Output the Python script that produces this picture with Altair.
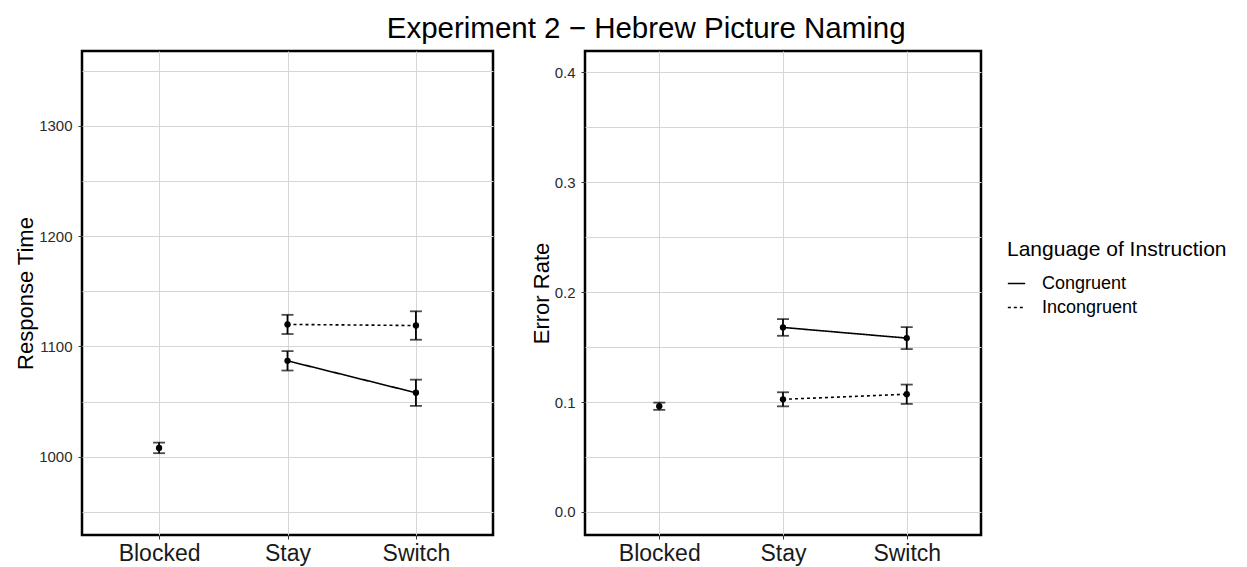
import altair as alt
import pandas as pd

# Condition categories and series
conditions = ["Blocked", "Stay", "Switch"]
languages = ["Congruent", "Incongruent"]

# Response time (ms): mean and standard error per cell
rt_cond = ["Blocked", "Stay", "Switch", "Stay", "Switch"]
rt_lang = ["Blocked", "Congruent", "Congruent", "Incongruent", "Incongruent"]
rt_mean = [1008, 1087, 1058, 1120, 1119]
rt_se = [4.8, 8.8, 11.9, 8.7, 12.9]

# Error rate: mean and standard error per cell
er_cond = ["Blocked", "Stay", "Switch", "Stay", "Switch"]
er_lang = ["Blocked", "Congruent", "Congruent", "Incongruent", "Incongruent"]
er_mean = [0.0962, 0.1679, 0.1582, 0.1025, 0.1071]
er_se = [0.0033, 0.0076, 0.0100, 0.0064, 0.0088]

# Axis tick values (major labelled, minor grid only)
rt_ticks = [950, 1000, 1050, 1100, 1150, 1200, 1250, 1300, 1350]
er_ticks = [0.0, 0.05, 0.1, 0.15, 0.2, 0.25, 0.3, 0.35, 0.4]

FONT = "Liberation Sans"
GRID = "#D6D6D6"


def frame(cond, lang, mean, se):
    df = pd.DataFrame({"cond": cond, "lang": lang, "mean": mean, "se": se})
    df["lo"] = df["mean"] - df["se"]
    df["hi"] = df["mean"] + df["se"]
    return df


def panel(df, ytitle, ticks, domain, width, major_test, fmt, label_expr):
    x = alt.X(
        "cond:N",
        sort=conditions,
        scale=alt.Scale(type="point", padding=0.6, domain=conditions),
        axis=alt.Axis(
            title=None,
            labelFont=FONT,
            labelFontSize=23,
            labelColor="#1A1A1A",
            labelAngle=0,
            labelPadding=3,
            tickColor="#333333",
            tickSize=4,
            domain=False,
            grid=True,
            gridColor=GRID,
            gridWidth=1,
        ),
    )
    yaxis = alt.Axis(
        title=ytitle,
        titleFont=FONT,
        titleFontSize=22,
        titleFontWeight="normal",
        titleColor="black",
        titlePadding=1,
        values=ticks,
        format=fmt,
        labelExpr=label_expr,
        labelFont=FONT,
        labelFontSize=15,
        labelColor="#2B2B2B",
        labelPadding=6,
        tickSize=4,
        tickColor="#333333",
        tickOpacity={"condition": {"test": major_test, "value": 1}, "value": 0},
        domain=False,
        grid=True,
        gridColor=GRID,
        gridWidth=1,
    )
    yscale = alt.Scale(domain=domain, nice=False, zero=False)

    base = alt.Chart(df)
    lines = (
        base.transform_filter(alt.datum.lang != "Blocked")
        .mark_line(color="black", strokeWidth=1.6)
        .encode(
            x=x,
            y=alt.Y("mean:Q", scale=yscale, axis=yaxis),
            strokeDash=alt.StrokeDash(
                "lang:N",
                scale=alt.Scale(domain=languages, range=[[1, 0], [3, 3]]),
                legend=alt.Legend(
                    title="Language of Instruction",
                    orient="none",
                    legendX=925,
                    legendY=188,
                    titleFont=FONT,
                    titleFontSize=21,
                    titleFontWeight="normal",
                    titleColor="black",
                    titlePadding=14,
                    titleLimit=400,
                    labelFont=FONT,
                    labelFontSize=18,
                    labelColor="black",
                    labelLimit=300,
                    symbolType="stroke",
                    symbolSize=300,
                    symbolStrokeWidth=1.5,
                    symbolStrokeColor="black",
                    rowPadding=5,
                    labelOffset=16,
                ),
            ),
        )
    )
    bars = base.mark_rule(color="black", strokeWidth=1.8).encode(
        x=x, y=alt.Y("lo:Q", scale=yscale, axis=yaxis), y2="hi:Q"
    )
    cap_lo = base.mark_tick(color="black", size=12, thickness=1.8).encode(
        x=x, y=alt.Y("lo:Q", scale=yscale, axis=yaxis)
    )
    cap_hi = base.mark_tick(color="black", size=12, thickness=1.8).encode(
        x=x, y=alt.Y("hi:Q", scale=yscale, axis=yaxis)
    )
    points = base.mark_circle(color="black", size=40, opacity=1).encode(
        x=x, y=alt.Y("mean:Q", scale=yscale, axis=yaxis)
    )
    return alt.layer(lines, bars, cap_lo, cap_hi, points).properties(
        width=width, height=484
    )


rt_df = frame(rt_cond, rt_lang, rt_mean, rt_se)
er_df = frame(er_cond, er_lang, er_mean, er_se)

left = panel(
    rt_df, "Response Time", rt_ticks, [929, 1368], 411,
    "datum.value % 100 == 0", "d",
    "datum.value % 100 == 0 ? datum.label : ''",
)
right = panel(
    er_df, "Error Rate", er_ticks, [-0.021, 0.4195], 396,
    "abs(datum.value * 10 - round(datum.value * 10)) < 0.000001", ".1f",
    "abs(datum.value * 10 - round(datum.value * 10)) < 0.000001 ? datum.label : ''",
)

chart = (
    alt.hconcat(left, right, spacing=33)
    .properties(
        title=alt.TitleParams(
            "Experiment 2 − Hebrew Picture Naming",
            font=FONT,
            fontSize=29.5,
            fontWeight="normal",
            color="black",
            anchor="middle",
            offset=5,
            dx=26,
        ),
        padding={"left": 13, "top": 14, "right": 5, "bottom": 5},
        background="white",
    )
    .configure_view(stroke="black", strokeWidth=2.5)
)

chart.save("out.html", embed_options={"renderer": "svg", "actions": False})
